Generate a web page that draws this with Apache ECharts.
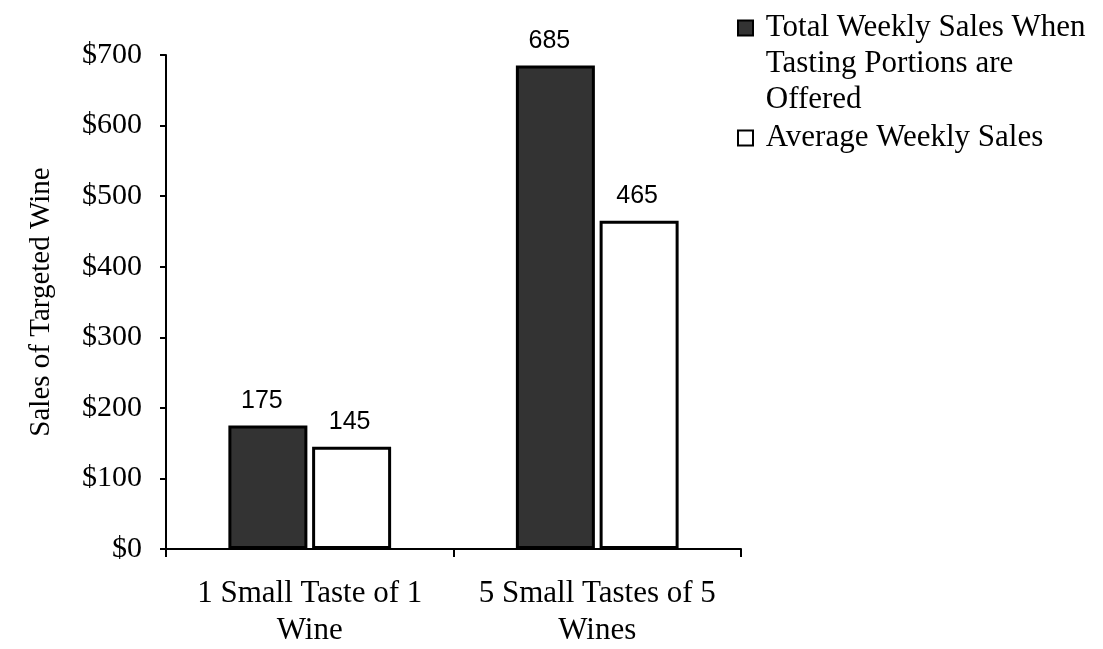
<!DOCTYPE html>
<html>
<head>
<meta charset="utf-8">
<script src="https://cdn.jsdelivr.net/npm/echarts@6/dist/echarts.min.js"></script>
<style>
  html, body { margin: 0; padding: 0; background: #fff; }
  #chart { width: 1103px; height: 649px; }
</style>
</head>
<body>
<div id="chart"></div>
<script>
// Weekly sales of the targeted wine, by tasting offer
const categories = ['1 Small Taste of 1\nWine', '5 Small Tastes of 5\nWines'];
const seriesNames = [
  'Total Weekly Sales When\nTasting Portions are\nOffered',
  'Average Weekly Sales'
];
const totalWithTasting = [175, 685];
const averageWeekly = [145, 465];
const yTicks = { min: 0, max: 700, step: 100 };

const SERIF = '"Liberation Serif", "Times New Roman", serif';
const SANS = '"Liberation Sans", Arial, sans-serif';

const chart = echarts.init(document.getElementById('chart'), null, { renderer: 'canvas' });

const labelStyle = {
  show: true,
  position: 'top',
  distance: 12,
  fontFamily: SANS,
  fontSize: 25,
  color: '#000'
};

const legendText = { fontFamily: SERIF, fontSize: 31, lineHeight: 36, color: '#000' };
// a leading space on every line widens the gap after the swatch
const indent = s => s.split('\n').map(l => (l ? ' ' + l : l)).join('\n');

chart.setOption({
  backgroundColor: '#fff',
  animation: false,
  grid: { left: 166, right: 362, top: 55, bottom: 100 },
  legend: [
    {
      // two blank lines ahead keep the first text line level with the swatch
      data: [seriesNames[0]],
      formatter: name => '\n\n' + indent(name),
      icon: 'rect',
      left: 737,
      top: -62,
      padding: 0,
      itemWidth: 15,
      itemHeight: 15,
      itemStyle: { borderWidth: 2, borderColor: '#000' },
      textStyle: legendText,
      selectedMode: false
    },
    {
      data: [seriesNames[1]],
      formatter: name => indent(name),
      icon: 'rect',
      left: 737,
      top: 120,
      padding: 0,
      itemWidth: 15,
      itemHeight: 15,
      itemStyle: { borderWidth: 2, borderColor: '#000' },
      textStyle: legendText,
      selectedMode: false
    }
  ],
  xAxis: {
    type: 'category',
    data: categories,
    axisLine: { lineStyle: { color: '#000', width: 2 } },
    axisTick: { show: true, length: 8, lineStyle: { color: '#000', width: 2 } },
    axisLabel: {
      interval: 0,
      fontFamily: SERIF, fontSize: 31, lineHeight: 37, color: '#000', margin: 26
    }
  },
  yAxis: {
    type: 'value',
    min: yTicks.min,
    max: yTicks.max,
    interval: yTicks.step,
    name: 'Sales of Targeted Wine',
    nameLocation: 'middle',
    nameGap: 110,
    nameTextStyle: { fontFamily: SERIF, fontSize: 29, color: '#000' },
    axisLine: { show: true, lineStyle: { color: '#000', width: 2 } },
    axisTick: { show: true, length: 6, lineStyle: { color: '#000', width: 2 } },
    splitLine: { show: false },
    axisLabel: {
      fontFamily: SERIF, fontSize: 30, color: '#000', margin: 24,
      formatter: v => '$' + v
    }
  },
  series: [
    {
      name: seriesNames[0],
      type: 'bar',
      data: totalWithTasting,
      barWidth: 79,
      barGap: '6%',
      itemStyle: { color: '#333333', borderColor: '#000', borderWidth: 3 },
      label: Object.assign({}, labelStyle, { offset: [-6, 0] })
    },
    {
      name: seriesNames[1],
      type: 'bar',
      data: averageWeekly,
      barWidth: 79,
      barGap: '6%',
      itemStyle: { color: '#ffffff', borderColor: '#000', borderWidth: 3 },
      label: Object.assign({}, labelStyle, { offset: [-2, 0] })
    }
  ]
});
</script>
</body>
</html>
